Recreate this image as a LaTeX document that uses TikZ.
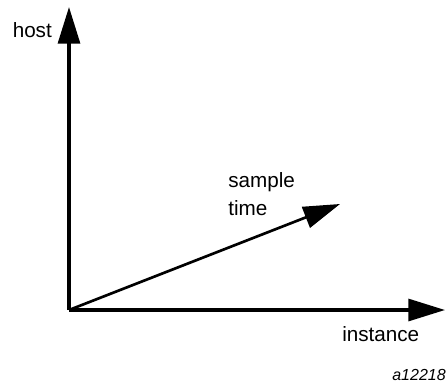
\documentclass[tikz,border=0pt]{standalone}
\usepackage{fontspec}
\setmainfont{Liberation Sans}
\usetikzlibrary{arrows.meta}

\begin{document}
\begin{tikzpicture}[
  x=0.75pt, y=-0.75pt,
  axis/.style={line width=2.3pt, -{Triangle[length=27.5pt, width=16.5pt]}},
  lbl/.style={font=\fontsize{15.5}{18}\selectfont, inner sep=0pt, anchor=base west},
  tag/.style={font=\fontsize{12}{14}\selectfont\itshape, inner sep=0pt, anchor=base east},
]
\useasboundingbox (0,0) rectangle (446,383);
% Axes
\coordinate (origin) at (69,310);
\coordinate (hosttip) at (69,7);
\coordinate (insttip) at (445,310);
\coordinate (timetip) at (340,204);
\draw[axis] (origin) -- (hosttip);
\draw[axis] (origin) -- (insttip);
\draw[axis, line width=2pt] (origin) -- (timetip);
% Labels
\node[lbl] (host) at (12.5,37) {host};
\node[lbl] (sample) at (228,187) {sample};
\node[lbl] (time) at (228,215) {time};
\node[lbl] (instance) at (342,341) {instance};
\node[tag] (figid) at (446,380) {a12218};
\end{tikzpicture}
\end{document}
